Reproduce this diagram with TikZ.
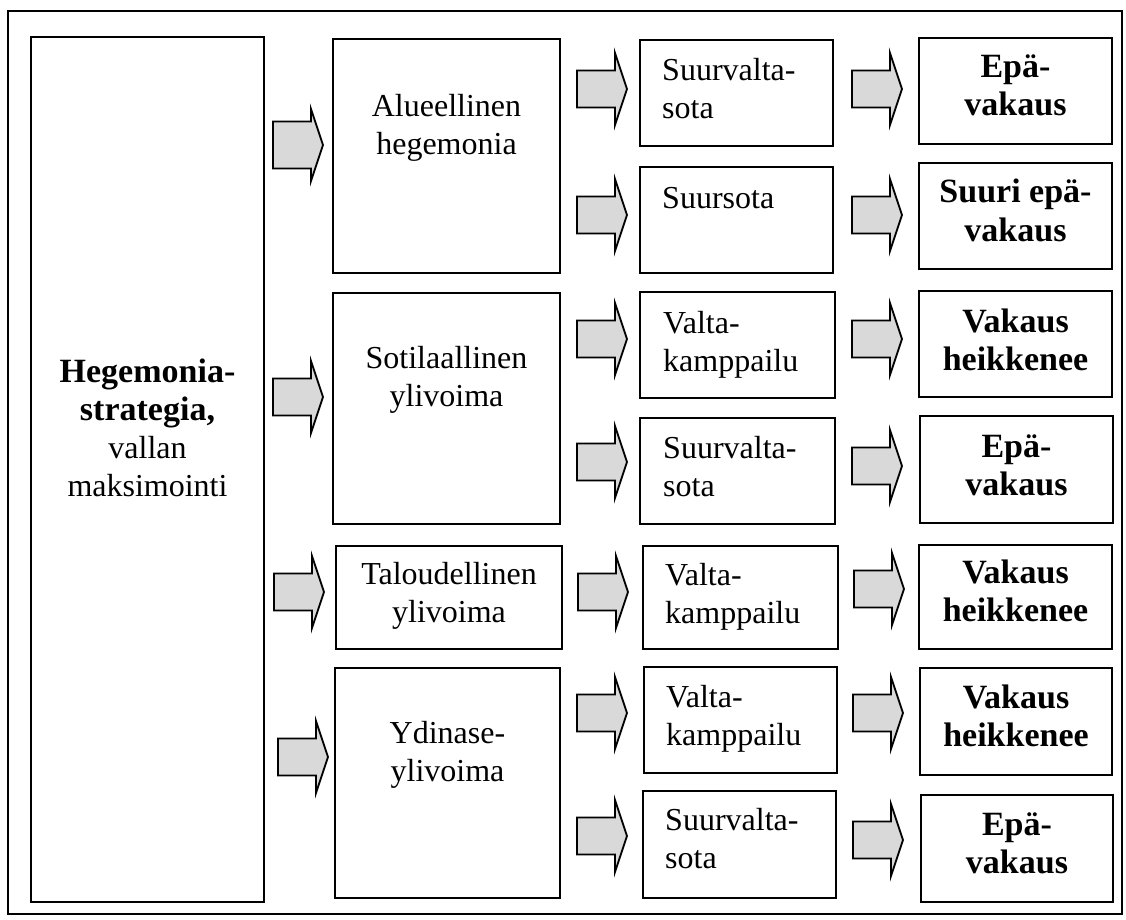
\documentclass[tikz,border=0pt]{standalone}
\usepackage{fontspec}
\setmainfont{Liberation Serif}
\usetikzlibrary{fit}
\definecolor{arrowgray}{RGB}{217,217,217}
\tikzset{
  frame/.style={draw=black, line width=1.5pt},
  box/.style={draw=black, line width=1.9pt, inner sep=0pt},
  txt/.style={inner sep=0pt, font=\fontsize{32}{38}\selectfont},
  ctxt/.style={txt, anchor=base},
  ltxt/.style={txt, anchor=base west},
  btxt/.style={ctxt, font=\fontsize{34}{38}\selectfont\bfseries},
  arrowline/.style={draw=black, fill=arrowgray, line width=1.8pt, line join=miter},
  pics/blockarrow/.style={code={
    \path[arrowline] (0,-#1) -- (38,-#1) -- (38,-36) -- (50,0)
      -- (38,36) -- (38,#1) -- (0,#1) -- cycle;
  }},
  pics/blockarrow/.default=18.5
}
\newcommand{\centerlines}[1]{\begin{tabular}[t]{@{}c@{}}#1\end{tabular}}
\newcommand{\leftlines}[1]{\begin{tabular}[t]{@{}l@{}}#1\end{tabular}}
\newcommand{\boldline}[1]{{\fontsize{34}{38}\selectfont\bfseries #1}}
\begin{document}
\begin{tikzpicture}[x=1pt,y=-1pt]
\useasboundingbox (0,0) rectangle (1126,920);

% outer frame
\node[frame, inner sep=0pt, fit={(8,11) (1122,914)}] (outer) {};

% strategy box
\node[box, fit={(31,37) (264,902)}] (hs) {};
\node[ctxt] (hs-t) at (147.5,382)
  {\centerlines{\boldline{Hegemonia-}\\\boldline{strategia,}\\vallan\\maksimointi}};

% second column
\node[box, fit={(333,39) (560,273)}] (alue) {};
\node[box, fit={(333,293) (560,524)}] (soti) {};
\node[box, fit={(336,546) (562,649)}] (talo) {};
\node[box, fit={(335,668) (560,898)}] (ydin) {};
\node[ctxt] (alue-t) at (446.5,117) {\centerlines{Alueellinen\\hegemonia}};
\node[ctxt] (soti-t) at (446.5,368) {\centerlines{Sotilaallinen\\ylivoima}};
\node[ctxt] (talo-t) at (449,584) {\centerlines{Taloudellinen\\ylivoima}};
\node[ctxt] (ydin-t) at (447.5,743) {\centerlines{Ydinase-\\ylivoima}};

% third column
\node[box, fit={(640,40) (833,146)}] (c1) {};
\node[box, fit={(640,167) (833,273)}] (c2) {};
\node[box, fit={(640,292) (835,398)}] (c3) {};
\node[box, fit={(640,418) (835,524)}] (c4) {};
\node[box, fit={(643,546) (838,649)}] (c5) {};
\node[box, fit={(644,667) (837,773)}] (c6) {};
\node[box, fit={(643,791) (836,898)}] (c7) {};
\node[ltxt] (c1-t) at (662,81) {\leftlines{Suurvalta-\\sota}};
\node[ltxt] (c2-t) at (662,208) {\leftlines{Suursota}};
\node[ltxt] (c3-t) at (663,333) {\leftlines{Valta-\\kamppailu}};
\node[ltxt] (c4-t) at (663,458) {\leftlines{Suurvalta-\\sota}};
\node[ltxt] (c5-t) at (665,585) {\leftlines{Valta-\\kamppailu}};
\node[ltxt] (c6-t) at (666,707) {\leftlines{Valta-\\kamppailu}};
\node[ltxt] (c7-t) at (665,830) {\leftlines{Suurvalta-\\sota}};

% fourth column
\node[box, fit={(919,38) (1112,144)}] (d1) {};
\node[box, fit={(919,163) (1112,269)}] (d2) {};
\node[box, fit={(919,291) (1112,397)}] (d3) {};
\node[box, fit={(920,416) (1113,523)}] (d4) {};
\node[box, fit={(919,545) (1112,649)}] (d5) {};
\node[box, fit={(920,668) (1112,775)}] (d6) {};
\node[box, fit={(921,795) (1113,902)}] (d7) {};
\node[btxt] (d1-t) at (1015.5,78) {\centerlines{Epä-\\vakaus}};
\node[btxt] (d2-t) at (1015.5,203) {\centerlines{Suuri epä-\\vakaus}};
\node[btxt] (d3-t) at (1015.5,332) {\centerlines{Vakaus\\heikkenee}};
\node[btxt] (d4-t) at (1016.5,457) {\centerlines{Epä-\\vakaus}};
\node[btxt] (d5-t) at (1015.5,583) {\centerlines{Vakaus\\heikkenee}};
\node[btxt] (d6-t) at (1016,708) {\centerlines{Vakaus\\heikkenee}};
\node[btxt] (d7-t) at (1017,835) {\centerlines{Epä-\\vakaus}};

% block arrows: strategy -> second column
\pic (a1) at (273,145) {blockarrow=23.5};
\pic (a2) at (273,397) {blockarrow};
\pic (a3) at (274,592) {blockarrow};
\pic (a4) at (278,757) {blockarrow};

% block arrows: second -> third column
\pic (b1) at (577,89) {blockarrow};
\pic (b2) at (577,215) {blockarrow};
\pic (b3) at (577,339) {blockarrow};
\pic (b4) at (577,462) {blockarrow};
\pic (b5) at (578,592) {blockarrow};
\pic (b6) at (577,713) {blockarrow};
\pic (b7) at (577,836) {blockarrow};

% block arrows: third -> fourth column
\pic (e1) at (852,89) {blockarrow};
\pic (e2) at (852,215) {blockarrow};
\pic (e3) at (852,339) {blockarrow};
\pic (e4) at (852,466) {blockarrow};
\pic (e5) at (854,589) {blockarrow};
\pic (e6) at (853,713) {blockarrow};
\pic (e7) at (853,840) {blockarrow};
\end{tikzpicture}
\end{document}
